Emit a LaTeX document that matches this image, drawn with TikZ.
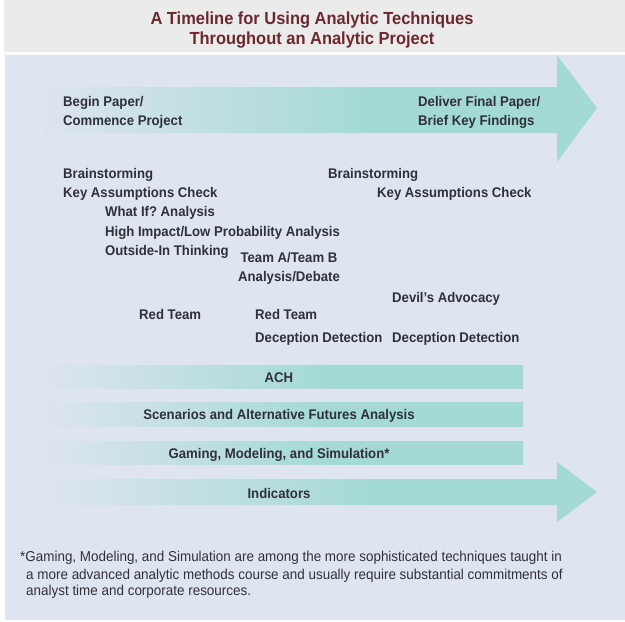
\documentclass[tikz,border=0pt]{standalone}
\usepackage{fontspec}
\setmainfont{Liberation Sans}[FakeStretch=0.94]
\frenchspacing
\definecolor{panelblue}{RGB}{223, 229, 240}
\definecolor{titlegrey}{RGB}{235, 235, 235}
\definecolor{tealbar}{RGB}{163, 218, 212}
\definecolor{titlered}{RGB}{108, 40, 46}
\definecolor{labelgrey}{RGB}{48, 48, 58}
\pgfdeclarehorizontalshading{tealfade}{100bp}{color(0bp)=(panelblue); color(25bp)=(panelblue); color(55bp)=(tealbar); color(100bp)=(tealbar)}

\begin{document}
\begin{tikzpicture}[x=1pt, y=-1pt,
    lbl/.style={anchor=base west, inner sep=0pt, text=labelgrey, font=\bfseries\fontsize{14}{16}\selectfont},
    barlbl/.style={lbl, anchor=base},
    ttl/.style={anchor=base, inner sep=0pt, text=titlered, font=\bfseries\fontsize{17.5}{20}\selectfont},
    note/.style={anchor=base west, inner sep=0pt, text=labelgrey, font=\fontsize{14.3}{16}\selectfont}]
    \useasboundingbox (0,0) rectangle (625,622);
    \fill[white] (0,0) rectangle (625,622);
    \fill[titlegrey] (4,0) rectangle (625,52);
    \fill[panelblue] (5,55) rectangle (625,620);

    \shade[shading=tealfade] (30,87) -- (557,87) -- (557,55) -- (597,108) -- (557,162) -- (557,133) -- (30,133) -- cycle;
    \shade[shading=tealfade] (35,365) rectangle (523,388);
    \shade[shading=tealfade] (35,402) rectangle (523,426);
    \shade[shading=tealfade] (35,441) rectangle (523,464);
    \shade[shading=tealfade] (35,479) -- (557,479) -- (557,462) -- (597,492) -- (557,522) -- (557,505) -- (35,505) -- cycle;

    \node[ttl] (title1) at (312,24) {A Timeline for Using Analytic Techniques};
    \node[ttl] (title2) at (312,44) {Throughout an Analytic Project};

    \node[lbl] (begin1) at (63,106) {Begin Paper/};
    \node[lbl] (begin2) at (63,125) {Commence Project};
    \node[lbl] (deliver1) at (418,106) {Deliver Final Paper/};
    \node[lbl] (deliver2) at (418,125) {Brief Key Findings};

    \node[lbl] (brainA) at (63,178) {Brainstorming};
    \node[lbl] (kacA) at (63,197) {Key Assumptions Check};
    \node[lbl] (whatif) at (105,216) {What If? Analysis};
    \node[lbl] (himpact) at (105,236) {High Impact/Low Probability Analysis};
    \node[lbl] (outside) at (105,255) {Outside-In Thinking};
    \node[barlbl] (teamab1) at (289,262) {Team A/Team B};
    \node[barlbl] (teamab2) at (289,281) {Analysis/Debate};
    \node[lbl] (brainB) at (328,178) {Brainstorming};
    \node[lbl] (kacB) at (377,197) {Key Assumptions Check};
    \node[lbl] (devil) at (392,302) {Devil’s Advocacy};
    \node[lbl] (redA) at (139,319) {Red Team};
    \node[lbl] (redB) at (255,319) {Red Team};
    \node[lbl] (decepA) at (255,342) {Deception Detection};
    \node[lbl] (decepB) at (392,342) {Deception Detection};

    \node[barlbl] (ach) at (279,382) {ACH};
    \node[barlbl] (scen) at (279,419) {Scenarios and Alternative Futures Analysis};
    \node[barlbl] (gaming) at (279,458) {Gaming, Modeling, and Simulation*};
    \node[barlbl] (indic) at (279,498) {Indicators};

    \node[note] (note1) at (20,561.5) {*Gaming, Modeling, and Simulation are among the more sophisticated techniques taught in};
    \node[note] (note2) at (26,579.5) {a more advanced analytic methods course and usually require substantial commitments of};
    \node[note] (note3) at (26,595.5) {analyst time and corporate resources.};
\end{tikzpicture}
\end{document}
